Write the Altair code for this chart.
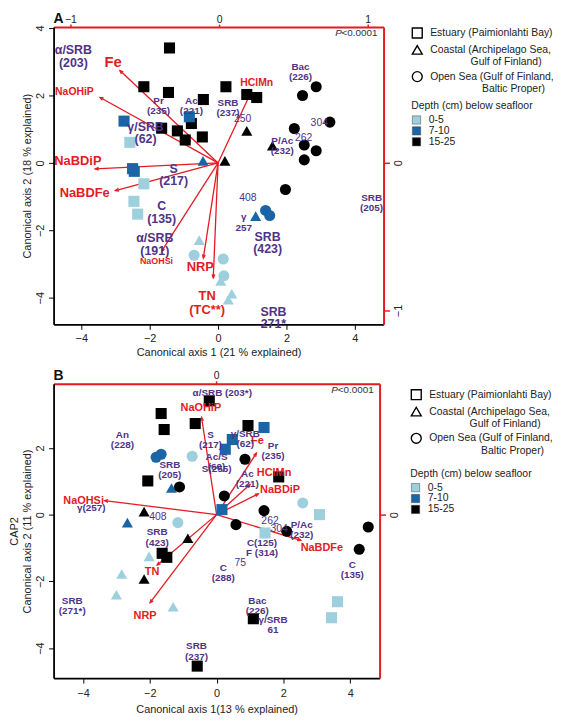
import altair as alt
import pandas as pd

FONT = "Liberation Sans"
RED = "#e31b23"
PURPLE = "#4f3386"
BLACK = "#000000"
BLUE = "#1b64a6"
LIGHT = "#9dcfdc"
NB = "\u00a0"
ZW = "\u200b"

SITE_NAMES = {
    "E": "Estuary (Paimionlahti Bay)",
    "C": "Coastal (Archipelago Sea,|" + ZW + NB * 14 + "Gulf of Finland)",
    "O": "Open Sea (Gulf of Finland,|" + ZW + NB * 18 + "Baltic Proper)",
}
SITES = [SITE_NAMES["E"], SITE_NAMES["C"], SITE_NAMES["O"]]
DEPTHS = ["0-5", "7-10", "15-25"]

# ---------------- Panel A data ----------------
A_X = [-1.42, -2.17, -1.45, -0.43, 0.23, 0.84, 1.13, -1.65, -1.19, -0.78, -0.96, -0.46,
       -2.75, -0.84, -2.50, -2.45,
       -2.58, -2.17, -2.46, -2.35,
       0.84, 1.59, 0.20,
       -0.44, 1.10,
       -0.55, 0.08, 0.40, 0.30,
       2.87, 2.47, 3.27, 2.23, 2.52, 2.87, 2.52, 1.97,
       1.39, 1.51,
       -0.70, 0.15, 0.17]
A_Y = [3.41, 2.26, 2.09, 1.88, 2.26, 2.03, 1.94, 1.03, 0.95, 1.17, 0.68, 0.77,
       1.24, 1.37, -0.17, -0.25,
       0.61, -0.62, -1.14, -1.52,
       0.95, 0.51, 0.06,
       0.06, -1.58,
       -2.29, -3.50, -3.88, -4.06,
       2.26, 2.00, 1.21, 1.02, 0.53, 0.36, 0.09, -0.79,
       -1.41, -1.56,
       -2.74, -2.85, -3.35]
A_SITE = ["E"] * 20 + ["C"] * 9 + ["O"] * 13
A_DEPTH = (["15-25"] * 12 + ["7-10"] * 4 + ["0-5"] * 4 + ["15-25"] * 3 + ["7-10"] * 2
           + ["0-5"] * 4 + ["15-25"] * 8 + ["7-10"] * 2 + ["0-5"] * 3)

A_ARROW_NAMES = ["Fe", "HClMn", "NaOHiP", "NaBDiP", "NaBDFe", "NaOHSi", "NRP", "TN"]
A_ARROW_X = [-2.87, 0.96, -3.45, -3.59, -3.00, -1.65, -0.43, -0.14]
A_ARROW_Y = [2.74, 2.09, 1.94, -0.18, -0.82, -2.62, -2.82, -3.41]

A_RED_BIG = ["Fe"]
A_RED_BIG_X = [-3.07]
A_RED_BIG_Y = [3.00]
A_RED_LARGE = ["NaBDiP", "NaBDFe", "NRP", "TN\n(TC**)"]
A_RED_LARGE_X = [-4.10, -3.90, -0.52, -0.32]
A_RED_LARGE_Y = [0.06, -0.88, -3.09, -3.96]
A_RED_MED = ["HClMn", "NaOHiP"]
A_RED_MED_X = [1.13, -4.20]
A_RED_MED_Y = [2.38, 2.09]
A_RED_SMALL = ["NaOHSi"]
A_RED_SMALL_X = [-1.80]
A_RED_SMALL_Y = [-2.91]

A_PUR_LARGE = ["\u03b1/SRB\n(203)", "\u03b3/SRB\n(62)", "S\n(217)", "C\n(135)",
               "\u03b1/SRB\n(191)", "SRB\n(423)", "SRB\n271*"]
A_PUR_LARGE_X = [-4.23, -2.12, -1.30, -1.65, -1.85, 1.45, 1.62]
A_PUR_LARGE_Y = [3.34, 1.07, -0.18, -1.29, -2.24, -2.20, -4.41]
A_PUR_SMALL = ["Pr\n(235)", "Ac\n(221)", "SRB\n(237)", "Bac\n(226)", "P/Ac\n(232)",
               "\u03b3\n257", "SRB\n(205)"]
A_PUR_SMALL_X = [-1.74, -0.78, 0.29, 2.41, 1.88, 0.75, 4.49]
A_PUR_SMALL_Y = [1.85, 1.85, 1.79, 2.85, 0.66, -1.62, -1.04]
A_PUR_NUM = ["250", "304", "262", "408"]
A_PUR_NUM_X = [0.72, 2.96, 2.50, 0.87]
A_PUR_NUM_Y = [1.29, 1.18, 0.73, -1.03]

# ---------------- Panel B data ----------------
B_X = [-0.22, -1.66, -1.57, -0.64, 0.94, -2.06, 1.86, -1.63, -1.49, 1.10, -0.58,
       1.42, 0.47, 0.26, 0.16,
       3.08, 1.45, 3.62, 3.44,
       -2.17, -0.86, -2.17,
       -1.35, -2.67,
       -2.02, -2.84, -3.00, -1.30,
       0.85, -1.11, 0.23, 1.42, 0.58, 2.10, 4.54, 4.27,
       -1.81, -1.66,
       -0.73, 2.58, -1.16]
B_Y = [3.41, 3.03, 2.55, 2.73, 2.67, 1.01, 1.13, -1.16, -1.28, -3.12, -4.54,
       2.61, 2.25, 1.96, 0.15,
       0.00, -0.55, -2.61, -3.09,
       0.09, -0.71, -1.93,
       0.80, -0.24,
       -1.25, -1.78, -2.40, -2.76,
       1.66, 0.83, 0.56, 0.12, -0.30, -0.50, -0.37, -1.04,
       1.72, 1.81,
       1.75, 0.35, -0.24]
B_SITE = ["E"] * 19 + ["C"] * 9 + ["O"] * 13
B_DEPTH = (["15-25"] * 11 + ["7-10"] * 4 + ["0-5"] * 4 + ["15-25"] * 3 + ["7-10"] * 2
           + ["0-5"] * 4 + ["15-25"] * 8 + ["7-10"] * 2 + ["0-5"] * 3)

B_ARROW_NAMES = ["NaOHiP", "Fe", "HClMn", "NaBDiP", "NaBDFe", "NaOHSi", "TN", "NRP"]
B_ARROW_X = [-0.45, 1.19, 1.00, 1.25, 2.52, -3.35, -1.78, -1.99]
B_ARROW_Y = [2.91, 1.84, 0.90, 0.62, -0.77, 0.42, -1.51, -2.64]

B_RED = ["NaOHiP", "Fe", "HClMn", "NaBDiP", "NaBDFe", "NaOHSi", "TN", "NRP"]
B_RED_X = [-0.47, 1.22, 1.72, 1.90, 3.15, -3.98, -1.93, -2.14]
B_RED_Y = [3.18, 2.20, 1.25, 0.74, -1.01, 0.42, -1.72, -3.03]

B_PUR = ["\u03b1/SRB (203*)", "An\n(228)", "S\n(217)", "\u03b3/SRB\n(62)", "Pr\n(235)",
         "Ac/S\n(60)", "S(255)", "SRB\n(205)", "Ac\n(221)", "SRB\n(423)", "P/Ac\n(232)",
         "C(125)\nF (314)", "C\n(288)", "C\n(135)", "SRB\n(271*)", "Bac\n(226)",
         "\u03b3/SRB\n61", "SRB\n(237)", "\u03b3(257)"]
B_PUR_X = [0.17, -2.82, -0.18, 0.86, 1.69, 0.00, 0.00, -1.40, 0.92, -1.78, 2.55,
           1.36, 0.20, 4.06, -4.32, 1.22, 1.69, -0.60, -3.75]
B_PUR_Y = [3.65, 2.39, 2.40, 2.43, 2.06, 1.74, 1.36, 1.50, 1.23, -0.53, -0.31,
           -0.85, -1.59, -1.50, -2.58, -2.58, -3.15, -3.95, 0.20]
B_PUR_NUM = ["408", "262", "304", "75"]
B_PUR_NUM_X = [-1.76, 1.60, 1.87, 0.71]
B_PUR_NUM_Y = [-0.06, -0.18, -0.42, -1.45]


def make_panel(cfg):
    xs = alt.Scale(domain=cfg["xdom"], nice=False, zero=False)
    ys = alt.Scale(domain=cfg["ydom"], nice=False, zero=False)
    xax = alt.Axis(values=cfg["xvals"], title=cfg["xtitle"], grid=False,
                   domainColor="black", domainWidth=1.8, tickColor="black", tickWidth=1,
                   tickSize=5, labelFontSize=11, labelColor="#222",
                   labelPadding=cfg["xlp"], titleFontSize=11, titleFontWeight="normal",
                   titleColor="#222", titlePadding=cfg["xtp"])
    yax = alt.Axis(values=cfg["yvals"], title=cfg["ytitle"], grid=False, labelAngle=270,
                   domainColor="black", domainWidth=1.8, tickColor="black", tickWidth=1,
                   tickSize=5, labelFontSize=11, labelColor="#222", labelPadding=3,
                   titleFontSize=11, titleFontWeight="normal", titleColor="#222",
                   titlePadding=2, titleLineHeight=13)

    def X(f):
        return alt.X(f, type="quantitative", scale=xs, axis=xax)

    def Y(f):
        return alt.Y(f, type="quantitative", scale=ys, axis=yax)

    pts = pd.DataFrame({"x": cfg["x"], "y": cfg["y"],
                        "site": [SITE_NAMES[s] for s in cfg["site"]],
                        "depth": cfg["depth"]})
    points = alt.Chart(pts).mark_point(filled=True, size=125, opacity=1).encode(
        x=X("x"), y=Y("y"),
        shape=alt.Shape("site:N", scale=alt.Scale(domain=SITES,
                        range=["square", "triangle-up", "circle"]),
                        legend=alt.Legend(title=None, orient="none",
                                          legendX=cfg["lx"], legendY=cfg["ly1"],
                                          symbolFillColor="white", symbolStrokeColor="black",
                                          symbolStrokeWidth=1.4, symbolSize=100,
                                          labelExpr="split(datum.label, '|')",
                                          labelFontSize=10.5, labelFont=FONT, labelColor="#222",
                                          labelOffset=7, rowPadding=1, labelLimit=400)),
        color=alt.Color("depth:N", scale=alt.Scale(domain=DEPTHS, range=[LIGHT, BLUE, BLACK]),
                        legend=alt.Legend(title="Depth (cm) below seafloor", orient="none",
                                          legendX=cfg["lx"], legendY=cfg["ly2"],
                                          symbolType="square", symbolSize=70,
                                          symbolStrokeColor="#444", symbolStrokeWidth=0.5,
                                          labelFontSize=10.5, labelFont=FONT, labelColor="#222",
                                          titleFontSize=10.5, titleFont=FONT,
                                          titleFontWeight="normal", titleColor="#222",
                                          titlePadding=3, rowPadding=0, labelOffset=7)),
    )

    arr = pd.DataFrame({"name": cfg["an"], "ax": cfg["ax"], "ay": cfg["ay"]})
    rules = alt.Chart(arr).transform_calculate(ox="0", oy="0").mark_rule(
        color=RED, strokeWidth=1.3).encode(
        x=X("ox"), y=Y("oy"), x2="ax:Q", y2="ay:Q")
    heads = alt.Chart(arr).transform_calculate(
        ang="(atan2(datum.ax, datum.ay) * 180 / PI + 360) % 360").mark_point(
        shape="M-0.7,1.7L0,0L0.7,1.7", filled=False, color=RED, strokeWidth=1.3,
        size=16, opacity=1).encode(
        x=X("ax"), y=Y("ay"), angle=alt.Angle("ang:Q", scale=None))

    def txt(texts, xv, yv, size, color, weight="bold", lh=None):
        df = pd.DataFrame({"t": texts, "x": xv, "y": yv})
        return alt.Chart(df).mark_text(font=FONT, fontSize=size, fontWeight=weight,
                                       color=color, lineBreak="\n",
                                       lineHeight=lh if lh else size, align="center",
                                       baseline="middle").encode(
            x=X("x"), y=Y("y"), text="t:N")

    layers = [rules, heads, points] + [txt(*t) for t in cfg["texts"]]

    pdf = pd.DataFrame({"a": ["<0.0001"], "b": ["P"], "c": [cfg["letter"]]})
    layers.append(alt.Chart(pdf).mark_text(font=FONT, fontSize=10, color="#333",
                                           align="right", baseline="middle").encode(
        text="a:N", x=alt.value(cfg["w"] - 6), y=alt.value(6)))
    layers.append(alt.Chart(pdf).mark_text(font=FONT, fontSize=10, color="#333",
                                           fontStyle="italic", align="right",
                                           baseline="middle").encode(
        text="b:N", x=alt.value(cfg["w"] - 42), y=alt.value(6)))
    layers.append(alt.Chart(pdf).mark_text(font=FONT, fontSize=14, fontWeight="bold",
                                           color="#111", align="left",
                                           baseline="middle").encode(
        text="c:N", x=alt.value(0), y=alt.value(-8)))

    main = alt.layer(*layers)

    sec_df = pd.DataFrame({"sx": cfg["sxdom"], "sy": cfg["sydom"]})
    sec = alt.Chart(sec_df).mark_point(opacity=0, size=1).encode(
        x=alt.X("sx:Q", scale=alt.Scale(domain=cfg["sxdom"], nice=False, zero=False),
                axis=alt.Axis(orient="top", values=cfg["sxvals"], title=None, grid=False,
                              domainColor=RED, domainWidth=2, tickColor=RED, tickWidth=1.5,
                              tickSize=3, labelFontSize=10.5, labelColor="#222",
                              labelPadding=0, labelAngle=0)),
        y=alt.Y("sy:Q", scale=alt.Scale(domain=cfg["sydom"], nice=False, zero=False),
                axis=alt.Axis(orient="right", values=cfg["syvals"], title=None, grid=False,
                              domainColor=RED, domainWidth=2, tickColor=RED, tickWidth=1.5,
                              tickSize=6, labelFontSize=11, labelColor="#222",
                              labelPadding=3, labelAngle=270)),
    )
    return alt.layer(main, sec).resolve_scale(x="independent", y="independent").properties(
        width=cfg["w"], height=cfg["h"])


A_CFG = dict(
    x=A_X, y=A_Y, site=A_SITE, depth=A_DEPTH,
    an=A_ARROW_NAMES, ax=A_ARROW_X, ay=A_ARROW_Y,
    xdom=[-4.81, 4.84], ydom=[-4.79, 4.03], xvals=[-4, -2, 0, 2, 4], yvals=[-4, -2, 0, 2, 4],
    sxdom=[-1.113, 1.107], sydom=[-1.094, 0.919], sxvals=[-1, 0, 1], syvals=[-1, 0],
    xtitle="Canonical axis 1 (21 % explained)", ytitle="Canonical axis 2 (18 % explained)",
    letter="A", w=333, h=300, lx=361, ly1=0, ly2=75, xlp=3, xtp=3,
    texts=[
        (A_RED_BIG, A_RED_BIG_X, A_RED_BIG_Y, 15, RED),
        (A_RED_LARGE, A_RED_LARGE_X, A_RED_LARGE_Y, 13, RED, "bold", 14),
        (A_RED_MED, A_RED_MED_X, A_RED_MED_Y, 10.5, RED),
        (A_RED_SMALL, A_RED_SMALL_X, A_RED_SMALL_Y, 9, RED),
        (A_PUR_LARGE, A_PUR_LARGE_X, A_PUR_LARGE_Y, 12.5, PURPLE, "bold", 12.5),
        (A_PUR_SMALL, A_PUR_SMALL_X, A_PUR_SMALL_Y, 10, PURPLE, "bold", 10.5),
        (A_PUR_NUM, A_PUR_NUM_X, A_PUR_NUM_Y, 10.5, PURPLE, "normal"),
    ],
)

B_CFG = dict(
    x=B_X, y=B_Y, site=B_SITE, depth=B_DEPTH,
    an=B_ARROW_NAMES, ax=B_ARROW_X, ay=B_ARROW_Y,
    xdom=[-4.88, 4.88], ydom=[-4.90, 3.92], xvals=[-4, -2, 0, 2, 4], yvals=[-4, -2, 0, 2],
    sxdom=[-1.0, 1.006], sydom=[-1.25, 1.0], sxvals=[0], syvals=[0],
    xtitle="Canonical axis 1(13 % explained)",
    ytitle=["CAP2", "Canonical axis 2 (11 % explained)"],
    letter="B", w=329, h=297, lx=360, ly1=5, ly2=86, xlp=5, xtp=5,
    texts=[
        (B_RED, B_RED_X, B_RED_Y, 11, RED),
        (B_PUR, B_PUR_X, B_PUR_Y, 10, PURPLE, "bold", 10.5),
        (B_PUR_NUM, B_PUR_NUM_X, B_PUR_NUM_Y, 10.5, PURPLE, "normal"),
    ],
)

chart = alt.vconcat(make_panel(A_CFG), make_panel(B_CFG), spacing=10).resolve_scale(
    color="independent", shape="independent").properties(
    padding={"left": 0, "top": 0, "right": 0, "bottom": 0}).configure_view(
    stroke=None).configure(font=FONT)

chart.save("out.html", embed_options={"renderer": "svg", "actions": False})
